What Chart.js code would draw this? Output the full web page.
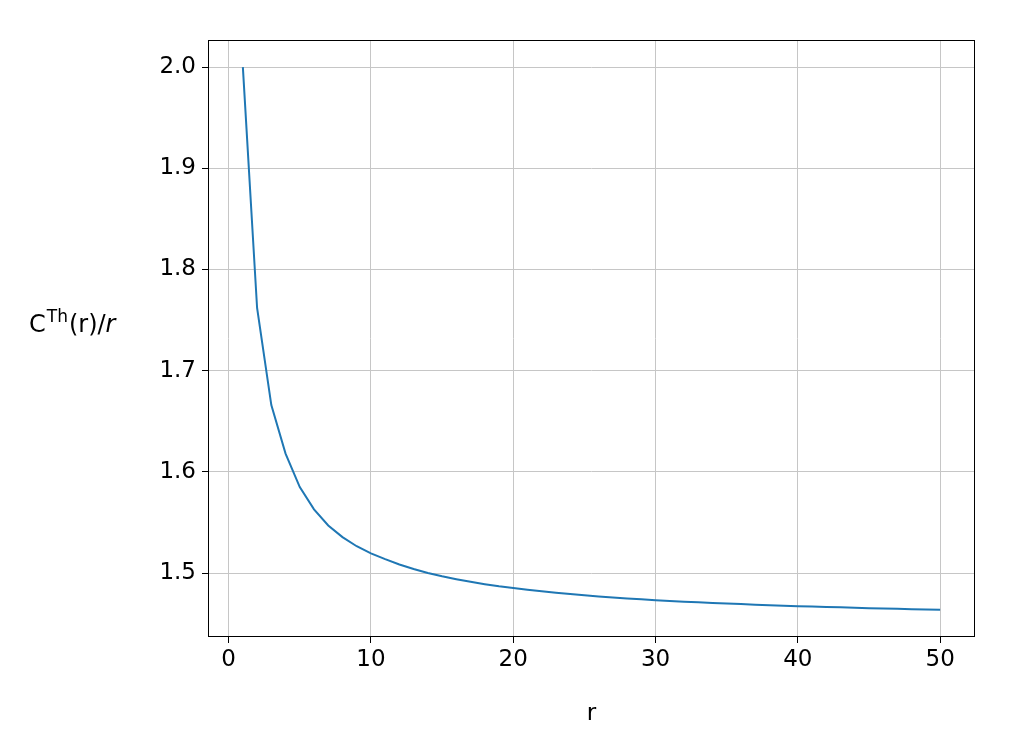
<!DOCTYPE html>
<html>
<head>
<meta charset="utf-8">
<script src="https://cdn.jsdelivr.net/npm/chart.js@4/dist/chart.umd.min.js"></script>
<style>
  html, body { margin: 0; padding: 0; background: #fff; }
  canvas { display: block; }
</style>
</head>
<body>
<canvas id="chart" width="1018" height="749"></canvas>
<script>
// data
const rValues = [
  1, 2, 3, 4, 5, 6, 7, 8, 9, 10,
  11, 12, 13, 14, 15, 16, 17, 18, 19, 20,
  21, 22, 23, 24, 25, 26, 27, 28, 29, 30,
  31, 32, 33, 34, 35, 36, 37, 38, 39, 40,
  41, 42, 43, 44, 45, 46, 47, 48, 49, 50
];
const ratioValues = [
  2.0000, 1.7620, 1.6660, 1.6180, 1.5850, 1.5630, 1.5470, 1.5355, 1.5265, 1.5195,
  1.5137, 1.5084, 1.5040, 1.5001, 1.4968, 1.4939, 1.4913, 1.4890, 1.4869, 1.4852,
  1.4834, 1.4819, 1.4805, 1.4792, 1.4780, 1.4769, 1.4759, 1.4749, 1.4740, 1.4732,
  1.4724, 1.4717, 1.4711, 1.4704, 1.4698, 1.4693, 1.4687, 1.4682, 1.4678, 1.4673,
  1.4669, 1.4665, 1.4661, 1.4657, 1.4653, 1.4650, 1.4647, 1.4643, 1.4640, 1.4637
];
const xTicks = [0, 10, 20, 30, 40, 50];
const yTicks = [1.5, 1.6, 1.7, 1.8, 1.9, 2.0];

const FONT = 'DejaVu Sans';

// frame round the plot + axis titles (y title needs a superscript)
const framePlugin = {
  id: 'frame',
  afterDraw(chart) {
    const { ctx, chartArea: a } = chart;
    ctx.save();
    ctx.strokeStyle = '#000';
    ctx.lineWidth = 1;
    ctx.strokeRect(a.left + 0.5, a.top + 0.5, a.right - a.left - 1, a.bottom - a.top - 1);

    ctx.fillStyle = '#000';
    ctx.textBaseline = 'alphabetic';
    ctx.textAlign = 'center';
    ctx.font = '23px ' + FONT;
    ctx.fillText('r', (a.left + a.right) / 2, 720);

    // C^Th(r)/r
    ctx.textAlign = 'left';
    let x = 29;
    const base = 332;
    ctx.font = '24px ' + FONT;
    ctx.fillText('C', x, base);
    x += ctx.measureText('C').width + 1;
    ctx.font = '17px ' + FONT;
    ctx.fillText('Th', x, base - 10);
    x += ctx.measureText('Th').width + 1;
    ctx.font = '24px ' + FONT;
    ctx.fillText('(r)/', x, base);
    x += ctx.measureText('(r)/').width;
    ctx.font = 'oblique 24px ' + FONT;
    ctx.fillText('r', x, base);
    ctx.restore();
  }
};

new Chart(document.getElementById('chart'), {
  type: 'line',
  data: {
    datasets: [{
      data: rValues.map((r, i) => ({ x: r, y: ratioValues[i] })),
      borderColor: '#1f77b4',
      borderWidth: 2,
      pointRadius: 0,
      tension: 0,
      fill: false
    }]
  },
  options: {
    responsive: false,
    animation: false,
    layout: { padding: { left: 0, top: 40, right: 43, bottom: 0 } },
    plugins: {
      legend: { display: false },
      tooltip: { enabled: false }
    },
    scales: {
      x: {
        type: 'linear',
        min: -1.45,
        max: 52.45,
        afterBuildTicks: (axis) => { axis.ticks = xTicks.map(v => ({ value: v })); },
        afterFit: (axis) => { axis.height = 112; },
        grid: { color: '#c6c6c6', lineWidth: 1, tickColor: '#000', tickLength: 6 },
        border: { display: false },
        ticks: { color: '#000', font: { family: FONT, size: 23 }, padding: 3, maxRotation: 0 }
      },
      y: {
        type: 'linear',
        min: 1.4368,
        max: 2.0268,
        afterBuildTicks: (axis) => { axis.ticks = yTicks.map(v => ({ value: v })); },
        afterFit: (axis) => { axis.width = 208; },
        grid: { color: '#c6c6c6', lineWidth: 1, tickColor: '#000', tickLength: 6 },
        border: { display: false },
        ticks: {
          color: '#000',
          font: { family: FONT, size: 23 },
          padding: 6,
          callback: (v) => v.toFixed(1)
        }
      }
    }
  },
  plugins: [framePlugin]
});
</script>
</body>
</html>
